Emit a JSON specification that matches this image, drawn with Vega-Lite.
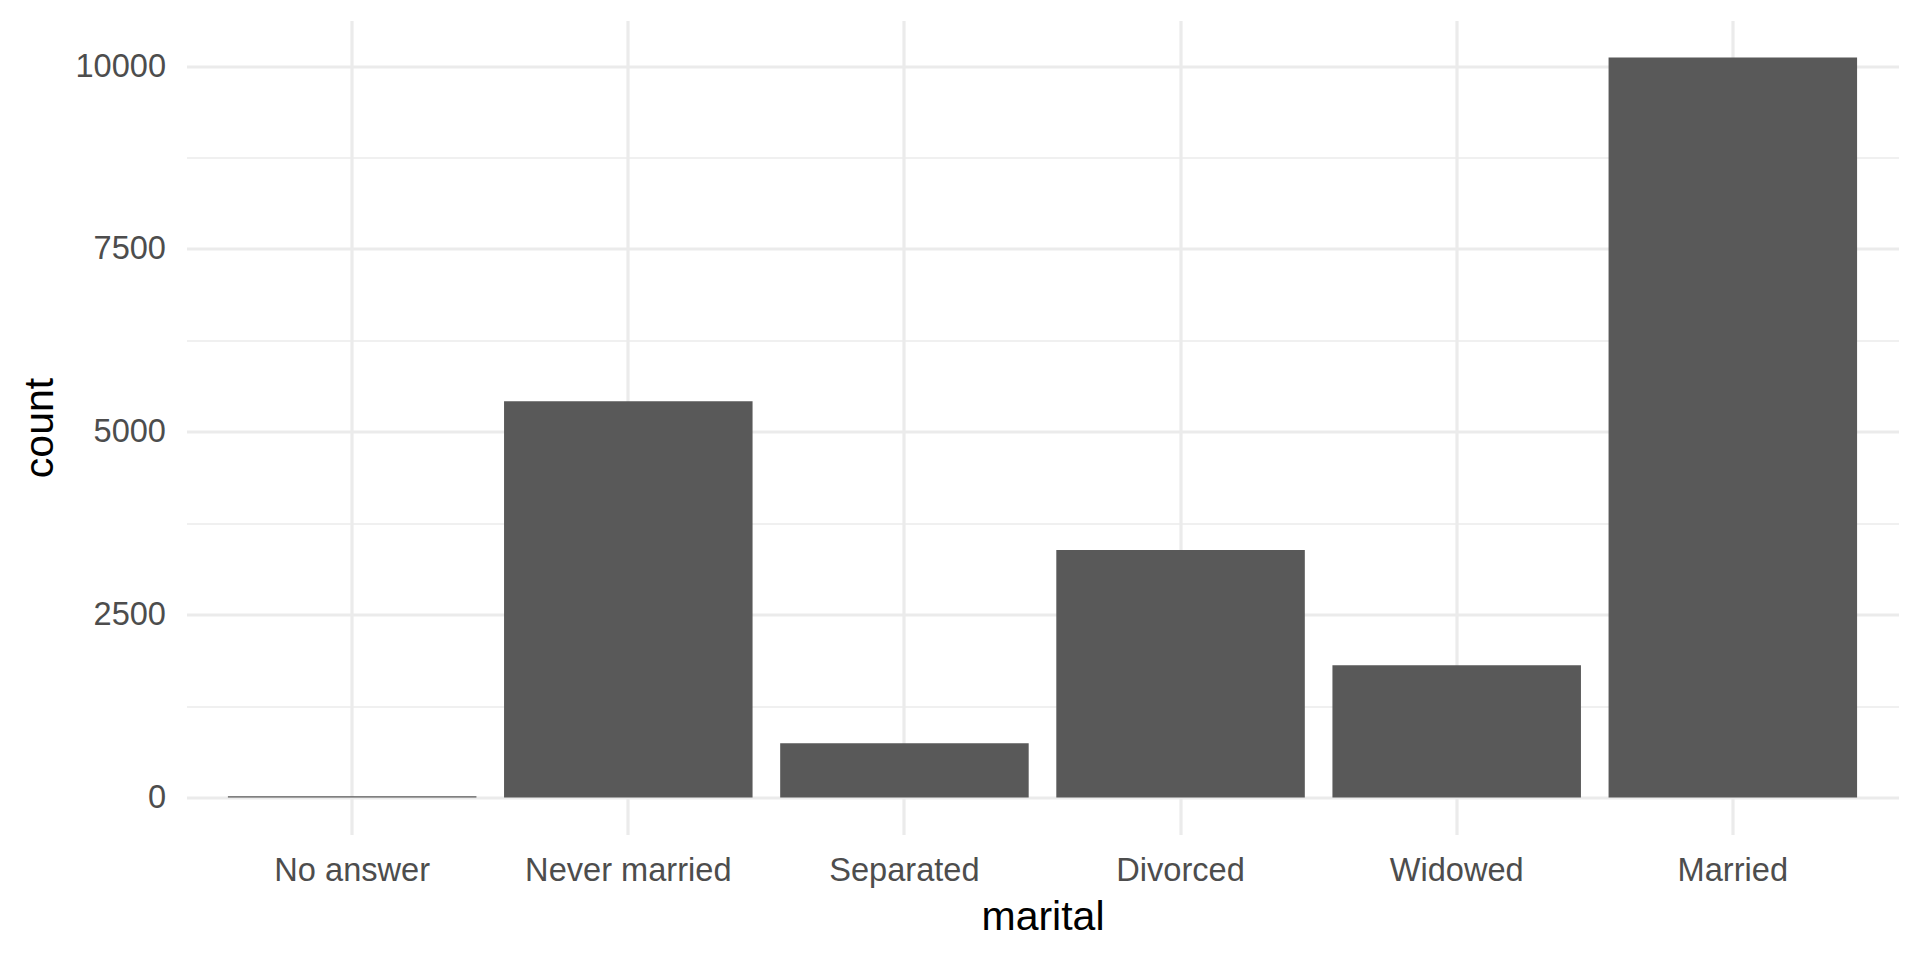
{
  "$schema": "https://vega.github.io/schema/vega-lite/v6.json",
  "width": 1712,
  "height": 814,
  "autosize": {"type": "none"},
  "padding": {"left": 186.5, "top": 20.5, "right": 21.5, "bottom": 125},
  "background": "white",
  "config": {"view": {"stroke": null}, "font": "Liberation Sans"},
  "data": {
    "values": [
      {"marital": "No answer", "count": 17},
      {"marital": "Never married", "count": 5416},
      {"marital": "Separated", "count": 743},
      {"marital": "Divorced", "count": 3383},
      {"marital": "Widowed", "count": 1807},
      {"marital": "Married", "count": 10117}
    ]
  },
  "mark": {"type": "bar", "color": "#595959"},
  "encoding": {
    "x": {
      "field": "marital",
      "type": "nominal",
      "sort": null,
      "scale": {"paddingInner": 0.1, "paddingOuter": 0.15},
      "axis": {
        "title": "marital",
        "bandPosition": 0.5,
        "labelAngle": 0,
        "labelLimit": 0,
        "grid": true,
        "gridColor": "#EBEBEB",
        "gridWidth": 3.2,
        "ticks": false,
        "tickSize": 0,
        "domain": false,
        "labelFontSize": 32.6,
        "labelColor": "#4D4D4D",
        "labelPadding": 19.5,
        "titleFontSize": 41,
        "titleFontWeight": "normal",
        "titleColor": "#000000",
        "titlePadding": 11
      }
    },
    "y": {
      "field": "count",
      "type": "quantitative",
      "scale": {"domain": [-505.85, 10622.85], "nice": false, "zero": false},
      "axis": {
        "title": "count",
        "values": [0, 1250, 2500, 3750, 5000, 6250, 7500, 8750, 10000],
        "format": "d",
        "labelExpr": "datum.value % 2500 === 0 ? datum.label : ''",
        "grid": true,
        "gridColor": "#EBEBEB",
        "gridWidth": {"condition": {"test": "datum.value % 2500 === 0", "value": 3.2}, "value": 1.6},
        "ticks": false,
        "tickSize": 0,
        "domain": false,
        "labelFontSize": 32.6,
        "labelColor": "#4D4D4D",
        "labelPadding": 21,
        "titleFontSize": 41,
        "titleFontWeight": "normal",
        "titleColor": "#000000",
        "titlePadding": 13
      }
    },
    "y2": {"datum": 0}
  }
}
